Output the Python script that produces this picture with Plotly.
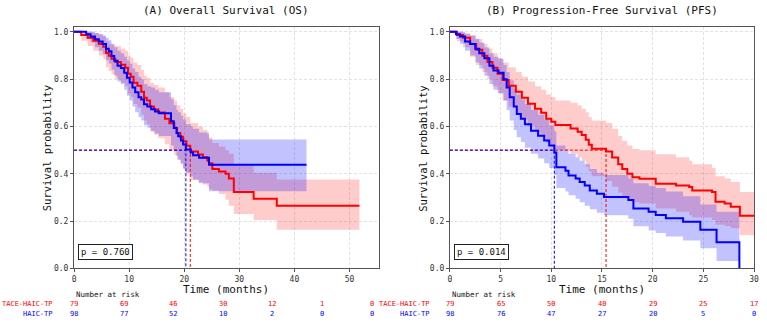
import plotly.graph_objects as go

W, H = 767, 323

# ---------------- Overall Survival (OS) ----------------
os_tace_t = [0, 1.3, 2.5, 3.5, 4.5, 5.3, 5.8, 6.3, 6.8, 7.5, 8.5, 9.3, 9.8, 10.3, 10.8, 11.5, 12.2, 12.7,
             13.2, 13.8, 14.5, 15.3, 16.5, 17.3, 18.2, 18.7, 19.3, 19.8, 20.4, 21.1, 22.5, 23.4, 24.2,
             24.5, 25.1, 26.3, 27.5, 28.1, 29.0, 32.6, 36.8]
os_tace_s = [1.0, 0.987, 0.975, 0.962, 0.949, 0.937, 0.911, 0.899, 0.886, 0.873, 0.861, 0.848, 0.823,
             0.81, 0.785, 0.772, 0.747, 0.722, 0.71, 0.684, 0.672, 0.659, 0.633, 0.614, 0.595, 0.573,
             0.557, 0.538, 0.519, 0.494, 0.482, 0.47, 0.455, 0.445, 0.42, 0.41, 0.40, 0.38, 0.323,
             0.295, 0.265]
os_tace_lo = [1.0, 0.962, 0.94, 0.92, 0.90, 0.885, 0.85, 0.835, 0.82, 0.80, 0.785, 0.77, 0.74, 0.725,
              0.695, 0.68, 0.65, 0.625, 0.61, 0.58, 0.565, 0.55, 0.525, 0.50, 0.48, 0.46, 0.44, 0.42,
              0.40, 0.375, 0.365, 0.355, 0.345, 0.335, 0.33, 0.315, 0.29, 0.265, 0.23, 0.205, 0.164]
os_tace_hi = [1.0, 1.0, 1.0, 0.995, 0.99, 0.98, 0.96, 0.95, 0.945, 0.94, 0.93, 0.92, 0.90, 0.89, 0.87,
              0.86, 0.84, 0.815, 0.805, 0.785, 0.775, 0.765, 0.745, 0.725, 0.71, 0.69, 0.675, 0.655,
              0.64, 0.615, 0.60, 0.585, 0.565, 0.555, 0.53, 0.515, 0.50, 0.485, 0.44, 0.405, 0.376]
os_tace_end = 51.8

os_haic_t = [0, 2.2, 3.0, 3.8, 4.5, 5.2, 5.8, 6.3, 6.8, 7.3, 7.9, 8.5, 9.1, 9.6, 10.1, 10.6, 11.1, 11.7,
             12.2, 12.7, 13.3, 14.0, 14.7, 15.4, 17.6, 18.1, 18.6, 18.9, 19.4, 19.8, 20.3, 21.2, 21.6,
             22.7, 24.5]
os_haic_s = [1.0, 0.99, 0.98, 0.969, 0.959, 0.949, 0.929, 0.918, 0.898, 0.878, 0.857, 0.847, 0.827,
             0.806, 0.786, 0.765, 0.745, 0.724, 0.714, 0.694, 0.684, 0.673, 0.663, 0.656, 0.622, 0.594,
             0.573, 0.559, 0.541, 0.524, 0.503, 0.49, 0.479, 0.468, 0.438]
os_haic_lo = [1.0, 0.97, 0.955, 0.935, 0.92, 0.905, 0.88, 0.865, 0.84, 0.815, 0.79, 0.78, 0.755, 0.73,
              0.71, 0.685, 0.66, 0.64, 0.625, 0.605, 0.595, 0.58, 0.57, 0.56, 0.52, 0.495, 0.475, 0.46,
              0.445, 0.425, 0.405, 0.39, 0.375, 0.36, 0.326]
os_haic_hi = [1.0, 1.0, 1.0, 0.995, 0.99, 0.985, 0.975, 0.965, 0.95, 0.935, 0.92, 0.91, 0.895, 0.88,
              0.865, 0.845, 0.83, 0.81, 0.80, 0.78, 0.77, 0.765, 0.755, 0.745, 0.715, 0.69, 0.67, 0.66,
              0.645, 0.63, 0.61, 0.60, 0.59, 0.575, 0.545]
os_haic_end = 42.2

# ---------------- Progression-Free Survival (PFS) ----------------
pfs_tace_t = [0, 0.7, 1.3, 2.0, 2.6, 3.2, 3.7, 4.2, 4.7, 5.2, 5.8, 6.5, 7.1, 7.7, 8.4, 9.0, 9.5, 10.0,
              10.4, 11.9, 12.6, 13.0, 13.4, 13.7, 14.0, 15.4, 16.0, 16.6, 17.0, 17.5, 18.0, 18.7, 20.3,
              22.3, 23.6, 23.9, 25.85, 26.2, 27.1, 27.7, 28.6]
pfs_tace_s = [1.0, 0.987, 0.975, 0.949, 0.924, 0.899, 0.873, 0.848, 0.823, 0.797, 0.772, 0.747, 0.722,
              0.696, 0.675, 0.658, 0.633, 0.62, 0.606, 0.592, 0.578, 0.564, 0.544, 0.523, 0.506, 0.494,
              0.469, 0.441, 0.42, 0.40, 0.386, 0.379, 0.358, 0.351, 0.344, 0.33, 0.323, 0.282, 0.275,
              0.261, 0.223]
pfs_tace_lo = [1.0, 0.96, 0.935, 0.895, 0.86, 0.83, 0.80, 0.77, 0.74, 0.71, 0.685, 0.655, 0.63, 0.60,
               0.575, 0.555, 0.53, 0.515, 0.50, 0.485, 0.47, 0.455, 0.43, 0.41, 0.39, 0.37, 0.345, 0.32,
               0.305, 0.29, 0.28, 0.275, 0.254, 0.24, 0.225, 0.215, 0.205, 0.185, 0.18, 0.17, 0.14]
pfs_tace_hi = [1.0, 1.0, 0.995, 0.985, 0.97, 0.95, 0.93, 0.91, 0.89, 0.87, 0.85, 0.83, 0.81, 0.79,
               0.77, 0.755, 0.735, 0.725, 0.71, 0.70, 0.69, 0.675, 0.66, 0.64, 0.625, 0.615, 0.59, 0.56,
               0.54, 0.52, 0.505, 0.50, 0.483, 0.47, 0.455, 0.44, 0.425, 0.39, 0.38, 0.365, 0.323]
pfs_tace_end = 30.0

pfs_haic_t = [0, 0.6, 1.0, 1.5, 2.0, 2.5, 2.9, 3.4, 3.9, 4.3, 4.8, 5.3, 5.6, 5.9, 6.3, 6.6, 7.0, 7.4,
              8.0, 8.7, 9.3, 9.8, 10.3, 10.5, 11.4, 11.7, 12.4, 12.8, 13.3, 13.8, 14.5, 15.2, 17.6,
              18.1, 19.6, 20.3, 21.3, 23.0, 24.7, 26.3]
pfs_haic_s = [1.0, 0.99, 0.98, 0.959, 0.949, 0.929, 0.91, 0.888, 0.857, 0.837, 0.827, 0.80, 0.765,
              0.724, 0.684, 0.653, 0.633, 0.61, 0.582, 0.561, 0.541, 0.52, 0.49, 0.428, 0.413, 0.393,
              0.38, 0.365, 0.351, 0.33, 0.316, 0.302, 0.289, 0.254, 0.24, 0.226, 0.212, 0.198, 0.164,
              0.111]
pfs_haic_lo = [1.0, 0.97, 0.95, 0.92, 0.90, 0.87, 0.845, 0.815, 0.78, 0.755, 0.74, 0.71, 0.67, 0.625,
               0.585, 0.555, 0.535, 0.51, 0.485, 0.465, 0.445, 0.425, 0.395, 0.34, 0.325, 0.31, 0.295,
               0.28, 0.265, 0.25, 0.235, 0.225, 0.21, 0.178, 0.16, 0.15, 0.135, 0.118, 0.085, 0.032]
pfs_haic_hi = [1.0, 1.0, 1.0, 0.99, 0.985, 0.97, 0.955, 0.935, 0.91, 0.895, 0.885, 0.86, 0.83, 0.795,
               0.76, 0.735, 0.715, 0.695, 0.67, 0.65, 0.63, 0.605, 0.58, 0.52, 0.505, 0.485, 0.47, 0.455,
               0.44, 0.42, 0.405, 0.395, 0.38, 0.36, 0.35, 0.34, 0.325, 0.305, 0.27, 0.24]
pfs_haic_end = 28.55

# ---------------- medians, p values, risk table ----------------
os_median_tace, os_median_haic = 21.1, 20.3
pfs_median_tace, pfs_median_haic = 15.4, 10.3
p_texts = ["p = 0.760", "p = 0.014"]
panel_titles = ["(A) Overall Survival (OS)", "(B) Progression-Free Survival (PFS)"]
group_names = ["TACE-HAIC-TP", "HAIC-TP"]

os_risk_times = [0, 9, 18, 27, 36, 45, 54]
os_risk_tace = [79, 69, 46, 30, 12, 1, 0]
os_risk_haic = [98, 77, 52, 10, 2, 0, 0]
pfs_risk_times = [0, 5, 10, 15, 20, 25, 30]
pfs_risk_tace = [79, 65, 50, 40, 29, 25, 17]
pfs_risk_haic = [98, 76, 47, 27, 20, 5, 0]

os_xticks = [0, 10, 20, 30, 40, 50]
pfs_xticks = [0, 5, 10, 15, 20, 25, 30]
y_ticks = [0.0, 0.2, 0.4, 0.6, 0.8, 1.0]

RED = "#ff0000"
BLUE = "#0000ff"
RED_FILL = "rgba(255,0,0,0.2)"
BLUE_FILL = "rgba(0,0,255,0.24)"
MONO = "DejaVu Sans Mono"

fig = go.Figure()


def px_x(p):
    return p / W


def px_y(p):
    return 1 - p / H


def add_band(t, lo, hi, t_end, fill, xa, ya):
    xs = list(t) + [t_end]
    fig.add_trace(go.Scatter(x=xs, y=list(hi) + [hi[-1]], mode="lines",
                             line=dict(width=0, shape="hv", color=fill),
                             xaxis=xa, yaxis=ya, showlegend=False, hoverinfo="skip"))
    fig.add_trace(go.Scatter(x=xs, y=list(lo) + [lo[-1]], mode="lines",
                             line=dict(width=0, shape="hv", color=fill),
                             fill="tonexty", fillcolor=fill,
                             xaxis=xa, yaxis=ya, showlegend=False, hoverinfo="skip"))


def add_curve(t, s, t_end, end_val, color, xa, ya):
    fig.add_trace(go.Scatter(x=list(t) + [t_end], y=list(s) + [end_val], mode="lines",
                             line=dict(width=2, shape="hv", color=color),
                             xaxis=xa, yaxis=ya, showlegend=False, hoverinfo="skip"))


def add_median(m, color, xa, ya):
    fig.add_trace(go.Scatter(x=[0, m, m], y=[0.5, 0.5, 0], mode="lines",
                             line=dict(width=1, dash="3px,2px", color=color),
                             xaxis=xa, yaxis=ya, showlegend=False, hoverinfo="skip"))


# Panel A
add_band(os_tace_t, os_tace_lo, os_tace_hi, os_tace_end, RED_FILL, "x", "y")
add_band(os_haic_t, os_haic_lo, os_haic_hi, os_haic_end, BLUE_FILL, "x", "y")
add_median(os_median_tace, RED, "x", "y")
add_median(os_median_haic, BLUE, "x", "y")
add_curve(os_tace_t, os_tace_s, os_tace_end, os_tace_s[-1], RED, "x", "y")
add_curve(os_haic_t, os_haic_s, os_haic_end, os_haic_s[-1], BLUE, "x", "y")

# Panel B
add_band(pfs_tace_t, pfs_tace_lo, pfs_tace_hi, pfs_tace_end, RED_FILL, "x2", "y2")
add_band(pfs_haic_t, pfs_haic_lo, pfs_haic_hi, pfs_haic_end, BLUE_FILL, "x2", "y2")
add_median(pfs_median_tace, RED, "x2", "y2")
add_median(pfs_median_haic, BLUE, "x2", "y2")
add_curve(pfs_tace_t, pfs_tace_s, pfs_tace_end, pfs_tace_s[-1], RED, "x2", "y2")
add_curve(pfs_haic_t, pfs_haic_s, pfs_haic_end, 0.0, BLUE, "x2", "y2")

ydom = [px_y(272.7), px_y(27.3)]
axis_common = dict(showline=True, mirror=True, linecolor="#555", linewidth=1,
                   ticks="outside", ticklen=3, tickcolor="#555",
                   showgrid=True, gridcolor="#e2e2e2", griddash="3px,2px", gridwidth=1,
                   zeroline=False, tickfont=dict(family=MONO, size=8, color="#333"))

fig.update_layout(
    width=W, height=H, margin=dict(l=0, r=0, t=0, b=0),
    paper_bgcolor="white", plot_bgcolor="white", showlegend=False,
    xaxis=dict(domain=[px_x(72.7), px_x(380)], range=[0, 55.27], anchor="y",
               tickvals=os_xticks, **axis_common),
    yaxis=dict(domain=ydom, range=[0, 1.021], anchor="x", tickvals=y_ticks,
               tickformat=".1f", **axis_common),
    xaxis2=dict(domain=[px_x(452), px_x(759)], range=[0, 30], anchor="y2",
                tickvals=pfs_xticks, **axis_common),
    yaxis2=dict(domain=ydom, range=[0, 1.021], anchor="x2", tickvals=y_ticks,
                tickformat=".1f", **axis_common),
)

ann = []
centers = [226, 606]
ylab_x = [45, 425]
label_right = [53.5, 433.5]
axis_left = [72.7, 452]
xrefs = ["x", "x2"]
risk_sets = [(os_risk_times, os_risk_tace, os_risk_haic),
             (pfs_risk_times, pfs_risk_tace, pfs_risk_haic)]

for i in range(2):
    ann.append(dict(text=panel_titles[i], x=px_x(centers[i]), y=px_y(11), xref="paper", yref="paper",
                    showarrow=False, xanchor="center", yanchor="middle",
                    font=dict(family=MONO, size=11, color="#111")))
    ann.append(dict(text="Time (months)", x=px_x(centers[i]), y=px_y(294), xref="paper", yref="paper",
                    showarrow=False, xanchor="center", yanchor="middle",
                    font=dict(family=MONO, size=11, color="#111")))
    ann.append(dict(text="Survival probability", x=px_x(ylab_x[i]), y=px_y(151), xref="paper",
                    yref="paper", showarrow=False, textangle=-90, xanchor="center", yanchor="middle",
                    font=dict(family=MONO, size=10.5, color="#111")))
    ann.append(dict(text=p_texts[i], x=px_x(axis_left[i] + 4), y=px_y(256), xref="paper", yref="paper",
                    showarrow=False, xanchor="left", yanchor="middle",
                    bordercolor="#222", borderwidth=1, borderpad=2, bgcolor="white",
                    font=dict(family=MONO, size=9, color="#111")))
    ann.append(dict(text="Number at risk", x=px_x(axis_left[i]), y=px_y(299), xref="paper", yref="paper",
                    showarrow=False, xanchor="left", yanchor="middle",
                    font=dict(family=MONO, size=7.5, color="#111")))
    for g, (name, col, py) in enumerate([(group_names[0], RED, 309), (group_names[1], BLUE, 319)]):
        ann.append(dict(text=name, x=px_x(label_right[i]), y=px_y(py), xref="paper", yref="paper",
                        showarrow=False, xanchor="right", yanchor="middle",
                        font=dict(family=MONO, size=7, color=col)))
        times, tace, haic = risk_sets[i]
        vals = tace if g == 0 else haic
        for tt, v in zip(times, vals):
            ann.append(dict(text=str(v), x=tt, y=px_y(py), xref=xrefs[i], yref="paper",
                            showarrow=False, xanchor="center", yanchor="middle",
                            font=dict(family=MONO, size=7, color=col)))

fig.update_layout(annotations=ann)
fig.write_html("out.html")
